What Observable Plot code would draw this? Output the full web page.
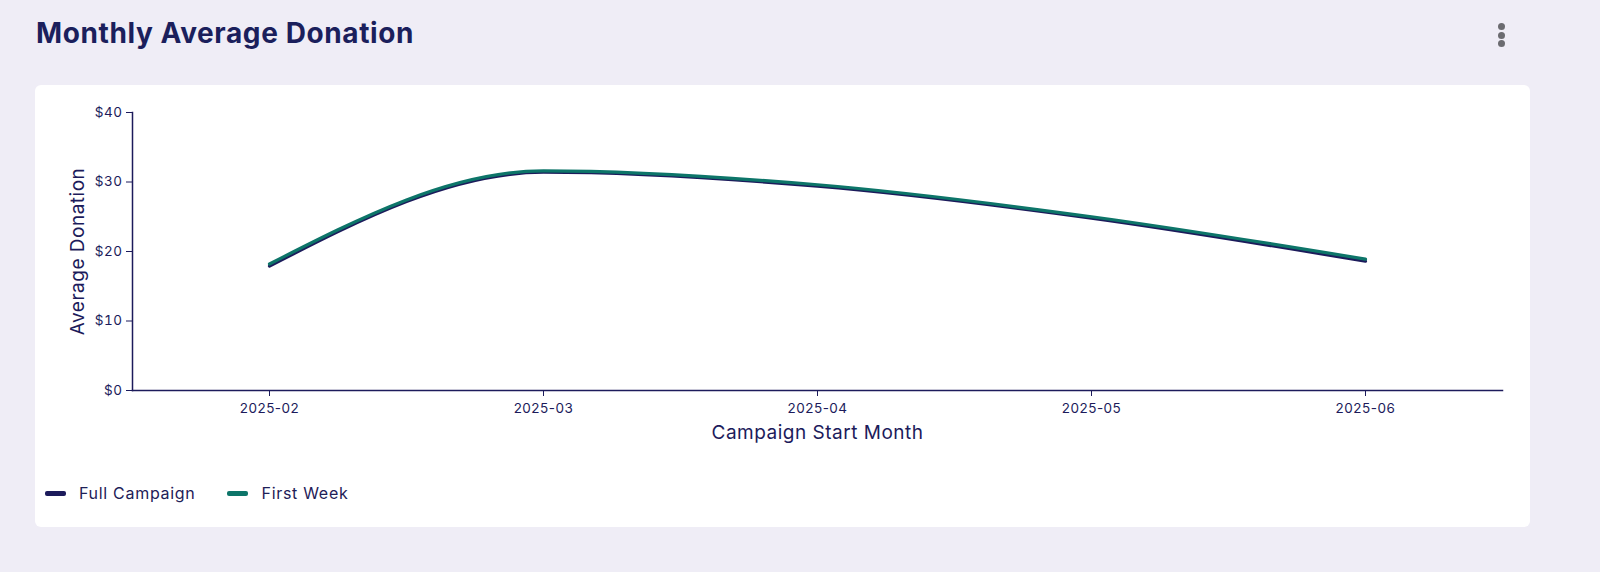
<!DOCTYPE html>
<html>
<head>
<meta charset="utf-8">
<script src="https://cdn.jsdelivr.net/npm/d3@7"></script>
<script src="https://cdn.jsdelivr.net/npm/@observablehq/plot@0.6"></script>
<style>
  html, body { margin: 0; padding: 0; background: #efedf6; width: 1600px; height: 572px; overflow: hidden; font-family: Inter, "Open Sans", sans-serif; color: #1e2057; }
  #title { position: absolute; left: 36px; top: 16px; font-size: 28px; font-weight: 750; color: #1b1f5c; letter-spacing: 0.6px; }
  #menu { position: absolute; left: 1498px; top: 23px; width: 8px; }
  #menu span { display: block; width: 7px; height: 7px; border-radius: 50%; background: #6b6b70; margin-bottom: 1.5px; }
  #card { position: absolute; left: 35px; top: 85px; width: 1495px; height: 442px; background: #fff; border-radius: 6px; }
  #chart { position: absolute; left: 0; top: 15px; }
  #legend { position: absolute; left: 10px; top: 398px; display: flex; align-items: center; font-size: 16px; letter-spacing: 0.7px; color: #1e2057; }
  .item { display: flex; align-items: center; margin-right: 32px; }
  .sw { width: 21px; height: 5px; border-radius: 2px; margin-right: 13px; }
  #chart svg text { letter-spacing: 0.5px; }
  g[aria-label="x-axis label"] text, g[aria-label="y-axis label"] text { font-size: 19px; letter-spacing: 0.6px; }
</style>
</head>
<body>
<div id="title">Monthly Average Donation</div>
<div id="menu"><span></span><span></span><span></span></div>
<div id="card">
  <div id="chart"></div>
  <div id="legend"></div>
</div>
<script>
const months = ["2025-02", "2025-03", "2025-04", "2025-05", "2025-06"];
const seriesNames = ["Full Campaign", "First Week"];
const seriesColors = ["#1c1b5b", "#0d7569"];
const fullCampaign = [17.9, 31.4, 29.4, 24.8, 18.6];
const firstWeek = [18.2, 31.6, 29.6, 25.0, 18.9];
const yTicks = [0, 10, 20, 30, 40];

const data = [];
[fullCampaign, firstWeek].forEach((vals, i) => {
  months.forEach((m, j) => data.push({month: m, value: vals[j], series: seriesNames[i]}));
});

const navy = "#1c1b5b";
const chart = Plot.plot({
  width: 1495,
  height: 345,
  marginLeft: 97,
  marginRight: 28,
  marginTop: 12,
  marginBottom: 55,
  style: {fontFamily: "Inter, 'Open Sans', sans-serif", fontSize: "13.5px", color: navy, background: "transparent"},
  x: {type: "point", domain: months, padding: 0.5},
  y: {domain: [0, 40]},
  color: {domain: seriesNames, range: seriesColors},
  marks: [
    Plot.axisY({ticks: yTicks, tickFormat: d => "$" + d, tickSize: 6, tickPadding: 4, label: "Average Donation", labelAnchor: "center", labelArrow: "none", labelOffset: 62, stroke: navy, fill: navy}),
    Plot.axisX({tickSize: 6, tickPadding: 7, label: "Campaign Start Month", labelAnchor: "center", labelArrow: "none", labelOffset: 48, stroke: navy, fill: navy}),
    Plot.frame({anchor: "left", stroke: navy, strokeWidth: 1.5}),
    Plot.frame({anchor: "bottom", stroke: navy, strokeWidth: 1.5}),
    Plot.line(data, {x: "month", y: "value", z: "series", stroke: "series", strokeWidth: 3.2, curve: "monotone-x"})
  ]
});
document.getElementById("chart").appendChild(chart);

const legend = document.getElementById("legend");
seriesNames.forEach((name, i) => {
  const item = document.createElement("div");
  item.className = "item";
  item.innerHTML = `<div class="sw" style="background:${seriesColors[i]}"></div><span>${name}</span>`;
  legend.appendChild(item);
});
</script>
</body>
</html>
